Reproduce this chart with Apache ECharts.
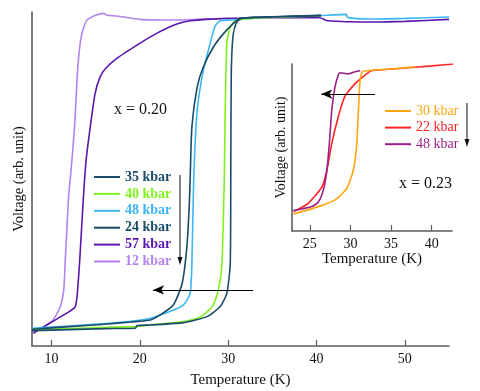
<!DOCTYPE html>
<html>
<head>
<meta charset="utf-8">
<script src="https://cdn.jsdelivr.net/npm/echarts@6/dist/echarts.min.js"></script>
<style>
html, body { margin: 0; padding: 0; background: #fff; }
#chart { width: 480px; height: 391px; }
</style>
</head>
<body>
<div id="chart"></div>
<script>
// main panel (x = 0.20): [temperature K, voltage arb.]
const p35 = [[7.8,4.6],[12,4.9],[16,5.2],[19.5,5.3],[19.7,6.1],[21.2,6.3],[24.95,7.0],[27.6,8.8],[29.1,11.8],[29.86,15.8],[30.24,24.8],[30.3,49.7],[30.35,80.6],[30.54,92.6],[30.9,96.6],[31.5,98.1],[35,98.5],[40.5,98.9]]
const p40 = [[7.8,4.9],[12,5.2],[16,5.6],[19.5,5.8],[21.2,6.3],[24.95,7.3],[26.8,8.6],[28.2,11.8],[28.9,16.8],[29.3,24.8],[29.56,49.7],[29.67,70.7],[29.86,90.6],[30.24,95.6],[31.0,97.6],[35,98.4],[40.5,98.8]]
const p48 = [[7.8,5.3],[12,6.0],[16,6.7],[19,7.4],[21.2,8.3],[23.4,10.3],[24.95,12.3],[25.7,15.8],[25.9,24.8],[26.1,49.7],[26.5,70.7],[27.2,82.6],[27.97,90.6],[28.5,95.6],[29.1,97.4],[30.4,97.6],[35,98.5],[40,98.9],[43.4,99.3],[43.5,98.4],[46,97.9],[50,98.1],[55,98.5]]
const p24 = [[7.8,5.0],[12,5.8],[16,6.5],[19,7.2],[21.2,7.8],[22.3,9.3],[23.8,12.3],[24.8,18.8],[25.33,29.7],[25.6,42],[25.7,50],[25.9,65.7],[26.5,77.6],[27.2,83.6],[28.35,89.6],[29.5,93.6],[30.6,96.6],[31.4,98.1],[35,98.6],[40.5,99]]
const p57 = [[7.95,3.8],[9.85,6.9],[11.4,9.3],[12.7,11.8],[13.05,19.8],[13.3,30],[13.6,43.7],[13.9,55],[14.4,65.7],[14.95,75.7],[15.5,80.5],[16.1,83],[17.4,86.1],[20,90.6],[21.9,93.6],[24.2,96.4],[25.7,97.4],[30,98.1],[35,98.3],[40.4,98.3],[41.2,97.4],[46.4,97.0],[50,97.2],[55,97.8]]
const p12 = [[7.9,4.3],[9.1,5.8],[10.2,7.8],[11.0,11.8],[11.4,17],[11.55,25],[11.75,35],[11.95,45],[12.2,52],[12.6,65],[13.0,84],[13.4,93],[14.0,97.5],[15.0,99],[15.9,99.6],[16.3,99],[17.4,98.8],[20,97.8],[24,97.6],[28,98]]

// inset (x = 0.23)
const q30 = [[22.98,10.2],[26.06,14.6],[28.1,18.6],[29.55,25.6],[30.36,36.5],[30.78,52.5],[30.98,72.5],[31.19,90.4],[31.47,95.4],[32.0,96],[35,97],[38,98.4]]
const q22 = [[22.98,11.6],[24.8,16.6],[26.5,26.5],[27.1,36.5],[27.7,52.5],[28.5,68.4],[29.3,80.4],[30.6,88.4],[31.8,93.4],[32.6,96],[36,97.3],[40,98.9],[42.66,100]]
const q48 = [[22.98,12.2],[25.25,14.6],[26.06,17.5],[26.67,24.6],[27.1,36.5],[27.4,52.5],[27.7,72.5],[28.1,86.4],[28.5,93.4],[28.7,94.8],[29.7,94],[30.57,95.4],[31.2,96]]

const mainTicks = [10, 20, 30, 40, 50]
const insetTicks = [25, 30, 35, 40]

const mainNames = ['35 kbar', '40 kbar', '48 kbar', '24 kbar', '57 kbar', '12 kbar']
const mainColors = ['#1b4d6b', '#7ff21c', '#3cb6f2', '#164a66', '#5a17ad', '#b383ee']
const insetNames = ['30 kbar', '22 kbar', '48 kbar ']
const insetColors = ['#ffa510', '#ff2424', '#9b1f86']

const FONT = 'Liberation Serif'
const AXIS = '#5c5c5c'

function line(name, data, color, idx, z) {
  return {
    name, type: 'line', data,
    xAxisIndex: idx, yAxisIndex: idx,
    symbol: 'none', smooth: 0.2,
    lineStyle: { color, width: 1.6 },
    itemStyle: { color },
    z: z || 2,
    silent: true,
  }
}

function arrowLine(y, from, to) {
  return {
    silent: true,
    symbol: ['arrow', 'none'],
    symbolSize: [7, 11],
    label: { show: false },
    lineStyle: { color: '#000', width: 1.2, type: 'solid' },
    data: [[{ coord: [to, y] }, { coord: [from, y] }]],
  }
}

const chart = echarts.init(document.getElementById('chart'))

const series = [
  line('12 kbar', p12, mainColors[5], 0),
  line('57 kbar', p57, mainColors[4], 0),
  line('48 kbar', p48, mainColors[2], 0),
  line('40 kbar', p40, mainColors[1], 0),
  line('24 kbar', p24, mainColors[3], 0),
  line('35 kbar', p35, mainColors[0], 0),
  line(insetNames[1], q22, insetColors[1], 1),
  line(insetNames[2], q48, insetColors[2], 1),
  line(insetNames[0], q30, insetColors[0], 1, 3),
]
series[5].markLine = arrowLine(16.8, 32.84, 21.5)
series[8].markLine = arrowLine(82, 33.03, 26.4)

function xAxis(idx, min, max, ticks) {
  return {
    gridIndex: idx, type: 'value', min, max,
    name: 'Temperature (K)', nameLocation: 'middle',
    nameGap: idx === 0 ? 27 : 17,
    nameTextStyle: { fontFamily: FONT, fontSize: 15, color: '#111' },
    axisLine: { lineStyle: { color: AXIS, width: 1.6 } },
    axisTick: { customValues: ticks, inside: true, length: 6, lineStyle: { color: AXIS, width: 1.2 } },
    axisLabel: { customValues: ticks, margin: 6, fontFamily: FONT, fontSize: 14, color: '#111' },
    splitLine: { show: false },
  }
}

function yAxis(idx, gap) {
  return {
    gridIndex: idx, type: 'value', min: 0, max: 100,
    name: 'Voltage (arb. unit)', nameLocation: 'middle', nameGap: gap,
    nameTextStyle: { fontFamily: FONT, fontSize: idx === 0 ? 14.5 : 14, color: '#111' },
    axisLine: { show: true, lineStyle: { color: AXIS, width: 1.6 } },
    axisTick: { show: false },
    axisLabel: { show: false },
    splitLine: { show: false },
  }
}

function legend(names, colors, left, top, bold, gap) {
  return {
    orient: 'vertical', left, top, padding: 0,
    icon: 'rect',
    itemWidth: 26, itemHeight: 2, itemGap: gap,
    selectedMode: false,
    textStyle: { fontFamily: FONT, fontSize: 14, fontWeight: bold ? 'bold' : 'normal' },
    data: names.map((n, i) => ({ name: n, textStyle: { color: colors[i] } })),
  }
}

function vArrow(x, y1, y2) {
  return {
    type: 'group', silent: true,
    children: [
      { type: 'line', shape: { x1: x, y1, x2: x, y2: y2 - 6 }, style: { stroke: '#333', lineWidth: 1.2 } },
      { type: 'polygon', shape: { points: [[x - 2.5, y2 - 8], [x + 2.5, y2 - 8], [x, y2]] }, style: { fill: '#111' } },
    ],
  }
}

chart.setOption({
  animation: false,
  backgroundColor: '#fff',
  grid: [
    { left: 32, right: 31, top: 12, bottom: 45, outerBoundsMode: 'none' },
    { left: 292, right: 28, top: 64, bottom: 160, outerBoundsMode: 'none' },
  ],
  xAxis: [xAxis(0, 7.8, 55, mainTicks), xAxis(1, 22.8, 42.5, insetTicks)],
  yAxis: [yAxis(0, 5), yAxis(1, 4)],
  legend: [
    legend(mainNames, mainColors, 94, 170, true, 2.9),
    legend(insetNames, insetColors, 385, 104, false, 2.6),
  ],
  graphic: [
    { type: 'text', left: 114, top: 102, style: { text: 'x = 0.20', font: '16px "Liberation Serif"', fill: '#111' } },
    { type: 'text', left: 399, top: 176, style: { text: 'x = 0.23', font: '16px "Liberation Serif"', fill: '#111' } },
    vArrow(180, 175, 265),
    vArrow(467, 103, 147),
  ],
  series,
})
</script>
</body>
</html>
